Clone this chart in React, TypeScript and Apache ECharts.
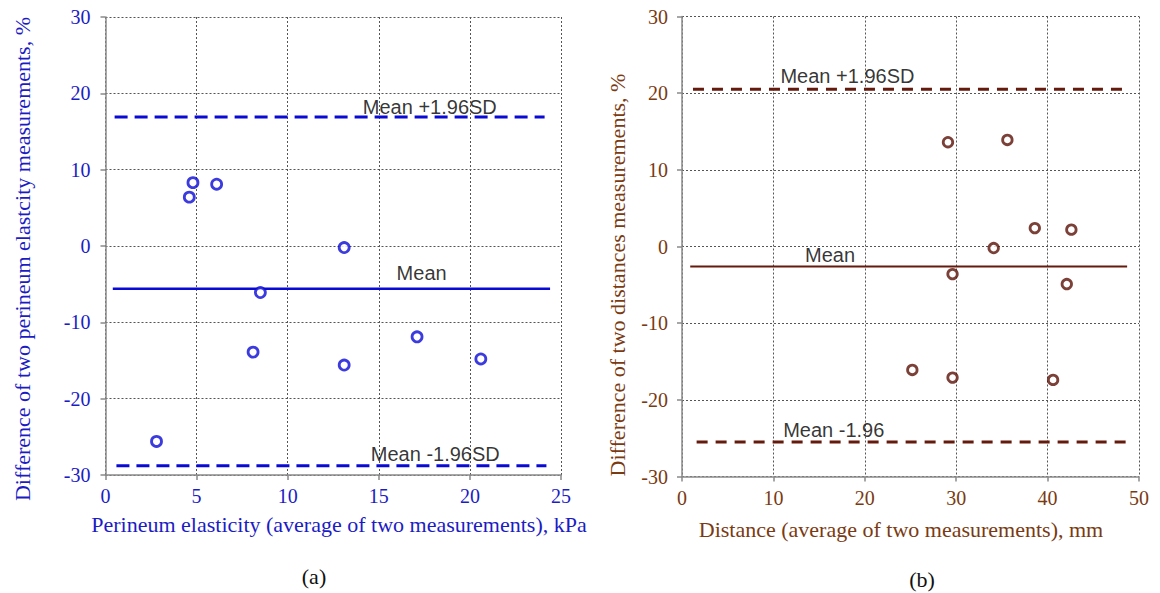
import React, { useEffect, useRef } from "react";
import * as echarts from "echarts";

// Panel (a): perineum elasticity
const leftX = [4.8, 4.6, 6.1, 13.1, 8.5, 8.1, 13.1, 17.1, 20.6, 2.8];
const leftY = [8.3, 6.4, 8.1, -0.2, -6.1, -13.9, -15.6, -11.9, -14.8, -25.6];
const leftLineValues = [16.9, -5.6, -28.8]; // +1.96SD, mean, -1.96SD
const leftLineStart = [0.5, 0.4, 0.6];
const leftLineEnd = [24.1, 24.4, 24.2];
const leftLabels = ["Mean +1.96SD", "Mean", "Mean -1.96SD"];
const leftLabelX = [17.8, 17.35, 18.1];
const leftLabelY = [18.25, -3.5, -27.2];

// Panel (b): distance
const rightX = [29.1, 35.6, 38.6, 42.6, 34.1, 29.6, 42.1, 25.2, 29.6, 40.6];
const rightY = [13.6, 13.9, 2.4, 2.2, -0.2, -3.6, -4.9, -16.1, -17.1, -17.4];
const rightLineValues = [20.5, -2.6, -25.5];
const rightLineStart = [1.2, 0.9, 1.6];
const rightLineEnd = [48.2, 48.7, 48.7];
const rightLabels = ["Mean +1.96SD", "Mean", "Mean -1.96"];
const rightLabelX = [18.1, 16.2, 16.6];
const rightLabelY = [22.3, -1.1, -23.9];

const yTicks = { min: -30, max: 30, interval: 10 };
const leftXTicks = { min: 0, max: 25, interval: 5 };
const rightXTicks = { min: 0, max: 50, interval: 10 };

const titles = {
  leftX: "Perineum elasticity (average of two measurements), kPa",
  leftY: "Difference of two perineum elastcity measurements, %",
  rightX: "Distance (average of two measurements), mm",
  rightY: "Difference of two distances measurements, %",
};

const BLUE = "#0a0ad6";
const BLUE_TEXT = "#1c1cc4";
const BROWN = "#641a0c";
const BROWN_TEXT = "#7a3a12";
const SERIF = "'Liberation Serif', 'Times New Roman', serif";
const SANS = "'Liberation Sans', Arial, sans-serif";

function axisCommon() {
  return {
    axisLine: { show: true, onZero: false, lineStyle: { color: "#8a8a8a", width: 1.5 } },
    axisTick: { show: true, length: 5, lineStyle: { color: "#8a8a8a", width: 1.5 } },
    splitLine: { show: true, lineStyle: { color: "#555", width: 1, type: [2, 2] } },
  };
}

export default function App() {
  const ref = useRef<HTMLDivElement>(null);
  useEffect(() => {
    if (!ref.current) return;
    const chart = echarts.init(ref.current, undefined, { renderer: "svg" });

    const lineSeries = (
      idx: number,
      values: number[],
      starts: number[],
      ends: number[],
      color: string,
      dash: number[],
      w: number,
      mw: number
    ) =>
      values.map((v, i) => ({
        type: "line",
        xAxisIndex: idx,
        yAxisIndex: idx,
        data: [
          [starts[i], v],
          [ends[i], v],
        ],
        symbol: "none",
        silent: true,
        lineStyle: { color, width: i === 1 ? mw : w, type: i === 1 ? "solid" : dash },
        z: 2,
      }));

    const labelSeries = (idx: number, texts: string[], xs: number[], ys: number[]) => ({
      type: "scatter",
      xAxisIndex: idx,
      yAxisIndex: idx,
      symbolSize: 1,
      itemStyle: { color: "rgba(0,0,0,0)" },
      silent: true,
      z: 5,
      data: texts.map((t, i) => ({ value: [xs[i], ys[i]], name: t })),
      label: {
        show: true,
        position: "inside",
        formatter: (p: any) => p.name,
        color: "#000",
        textBorderWidth: 0,
        fontFamily: SANS,
        fontSize: 20,
        align: "center",
        verticalAlign: "middle",
      },
    });

    chart.setOption({
      animation: false,
      backgroundColor: "#fff",
      grid: [
        { left: 105.5, top: 17, width: 455.5, height: 458 },
        { left: 682, top: 16.5, width: 457, height: 460 },
      ],
      xAxis: [
        {
          type: "value",
          gridIndex: 0,
          ...leftXTicks,
          ...axisCommon(),
          axisLabel: { color: BLUE_TEXT, fontFamily: SERIF, fontSize: 20, margin: 11 },
        },
        {
          type: "value",
          gridIndex: 1,
          ...rightXTicks,
          ...axisCommon(),
          axisLabel: { color: BROWN_TEXT, fontFamily: SERIF, fontSize: 20, margin: 11 },
        },
      ],
      yAxis: [
        {
          type: "value",
          gridIndex: 0,
          ...yTicks,
          ...axisCommon(),
          axisLabel: { color: BLUE_TEXT, fontFamily: SERIF, fontSize: 20, margin: 15 },
        },
        {
          type: "value",
          gridIndex: 1,
          ...yTicks,
          ...axisCommon(),
          axisLabel: { color: BROWN_TEXT, fontFamily: SERIF, fontSize: 20, margin: 14 },
        },
      ],
      series: [
        ...lineSeries(0, leftLineValues, leftLineStart, leftLineEnd, BLUE, [13, 7], 3, 2.5),
        ...lineSeries(1, rightLineValues, rightLineStart, rightLineEnd, BROWN, [11, 8], 3, 2),
        {
          type: "scatter",
          xAxisIndex: 0,
          yAxisIndex: 0,
          data: leftX.map((x, i) => [x, leftY[i]]),
          symbol: "circle",
          symbolSize: 10,
          itemStyle: { color: "#fff", borderColor: BLUE, borderWidth: 2.8 },
          z: 4,
        },
        {
          type: "scatter",
          xAxisIndex: 1,
          yAxisIndex: 1,
          data: rightX.map((x, i) => [x, rightY[i]]),
          symbol: "circle",
          symbolSize: 9.5,
          itemStyle: { color: "#fff", borderColor: "#5a1005", borderWidth: 2.8 },
          z: 4,
        },
        labelSeries(0, leftLabels, leftLabelX, leftLabelY),
        labelSeries(1, rightLabels, rightLabelX, rightLabelY),
      ],
      graphic: [
        {
          type: "text",
          x: 22.5,
          y: 259,
          rotation: Math.PI / 2,
          style: {
            text: titles.leftY,
            fill: BLUE_TEXT,
            font: `22px ${SERIF}`,
            textAlign: "center",
            textVerticalAlign: "middle",
          },
        },
        {
          type: "text",
          x: 617,
          y: 275,
          rotation: Math.PI / 2,
          style: {
            text: titles.rightY,
            fill: BROWN_TEXT,
            font: `22px ${SERIF}`,
            textAlign: "center",
            textVerticalAlign: "middle",
          },
        },
        {
          type: "text",
          x: 339,
          y: 524,
          style: {
            text: titles.leftX,
            fill: BLUE_TEXT,
            font: `22px ${SERIF}`,
            textAlign: "center",
            textVerticalAlign: "middle",
          },
        },
        {
          type: "text",
          x: 901,
          y: 529,
          style: {
            text: titles.rightX,
            fill: BROWN_TEXT,
            font: `22px ${SERIF}`,
            textAlign: "center",
            textVerticalAlign: "middle",
          },
        },
        {
          type: "text",
          x: 314,
          y: 576,
          style: { text: "(a)", fill: "#111", font: `22px ${SERIF}`, textAlign: "center", textVerticalAlign: "middle" },
        },
        {
          type: "text",
          x: 922,
          y: 579,
          style: { text: "(b)", fill: "#111", font: `22px ${SERIF}`, textAlign: "center", textVerticalAlign: "middle" },
        },
      ],
    });
    return () => chart.dispose();
  }, []);
  return (
    <div
      ref={ref}
      style={{ position: "fixed", left: 0, top: 0, width: 1160, height: 593, background: "#fff" }}
    />
  );
}
